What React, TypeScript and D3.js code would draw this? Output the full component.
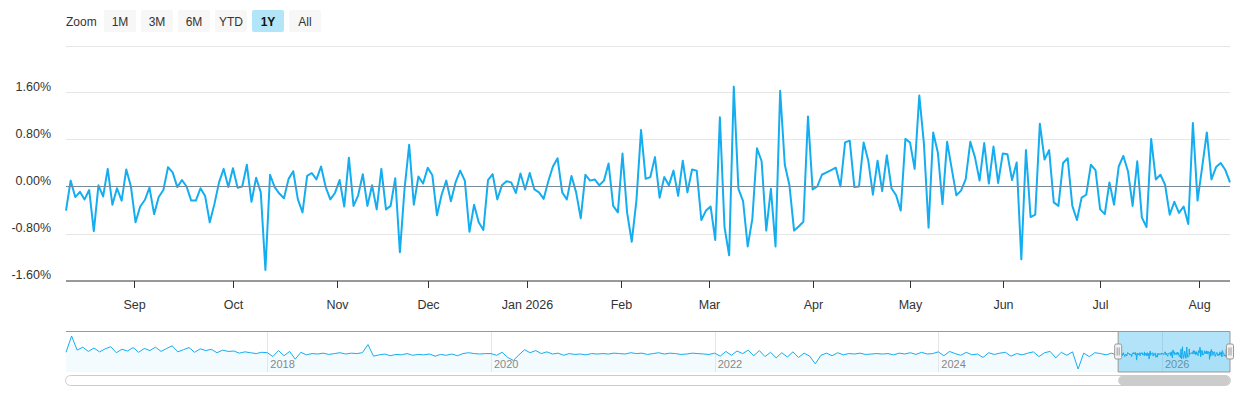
import React from 'react';
import * as d3 from 'd3';

// Daily change (%), trading days only, one list per calendar month
const aug2025 = [-0.41, 0.10, -0.18, -0.09, -0.22, -0.06, -0.76, 0.02, -0.17, 0.30, -0.31, -0.03, -0.24, 0.29, 0.00];
const sep2025 = [-0.61, -0.34, -0.23, -0.02, -0.47, -0.18, -0.06, 0.33, 0.24, -0.01, 0.11, 0.00, -0.24, -0.24, -0.03, -0.16, -0.61, -0.30, 0.07, 0.30, -0.01];
const oct2025 = [0.31, -0.02, 0.00, 0.37, -0.26, 0.15, -0.10, -1.42, 0.20, -0.01, -0.12, -0.20, 0.13, 0.26, -0.22, -0.44, 0.18, 0.23, 0.12, 0.34, -0.01, -0.22, -0.11];
const nov2025 = [0.11, -0.34, 0.49, -0.33, -0.15, 0.21, -0.33, 0.02, -0.39, 0.30, -0.39, -0.33, 0.14, -1.12, -0.04, 0.71, -0.31, 0.17, 0.05];
const dec2025 = [0.32, 0.19, -0.49, -0.14, 0.10, -0.25, 0.07, 0.27, 0.10, -0.77, -0.31, -0.61, -0.74, 0.11, 0.21, -0.22, 0.02, 0.09, 0.07, -0.11, 0.22, -0.05];
const jan2026 = [0.23, -0.05, -0.10, -0.21, 0.09, 0.34, 0.48, -0.10, -0.22, 0.18, -0.10, -0.54, 0.20, 0.10, 0.12, 0.02, 0.10, 0.39, -0.33, -0.44];
const feb2026 = [0.56, -0.45, -0.94, -0.24, 0.96, 0.13, 0.16, 0.50, -0.19, 0.16, 0.02, 0.27, -0.16, 0.44, -0.10, 0.29, 0.27, -0.57, -0.41];
const mar2026 = [-0.34, -0.91, 1.18, -0.69, -1.17, 1.70, -0.04, -0.25, -1.02, -0.55, 0.65, 0.43, -0.75, -0.04, -1.02, 1.63, 0.37, 0.02, -0.75, -0.68, -0.60, 1.19];
const apr2026 = [-0.05, 0.00, 0.20, 0.24, 0.28, 0.32, 0.00, 0.75, 0.78, -0.01, 0.00, 0.75, 0.44, -0.14, 0.44, -0.08, 0.53, -0.03, -0.15, -0.41, 0.81];
const may2026 = [0.75, 0.30, 1.55, 0.73, -0.70, 0.92, 0.58, -0.30, 0.76, 0.30, -0.15, -0.07, 0.12, 0.76, 0.50, 0.10, 0.74, 0.05, 0.68, 0.06];
const jun2026 = [0.56, 0.55, 0.11, 0.41, -1.24, 0.62, -0.52, -0.48, 1.07, 0.46, 0.62, -0.27, -0.33, 0.40, 0.48, -0.33, -0.57, -0.19, -0.14, 0.37, 0.28];
const jul2026 = [-0.39, -0.47, 0.07, -0.31, 0.34, 0.52, 0.26, -0.33, 0.43, -0.53, -0.69, 0.81, 0.12, 0.20, 0.03, -0.48, -0.26, -0.45, -0.34, -0.64, 1.08, -0.24];
const aug2026 = [0.33, 0.92, 0.12, 0.33, 0.40, 0.28, 0.07];

// market closures inside the 1Y window
const holidays = ['2025-09-01', '2025-11-27', '2025-12-25', '2026-01-01', '2026-01-19', '2026-02-16', '2026-04-03', '2026-05-25', '2026-06-19', '2026-07-03'];

const nav2016 = [0.4, 4.2, 0.9, 1.6, 0.6, 1.4, 0.5, 1.2, 1.7, 0.3, 1.1, 0.7, 1.5, 0.4, 1.3, 0.8];
const nav2017 = [1.6, 0.6, 1.3, 1.9, 0.5, 1.0, 1.5, 0.4, 1.2, 0.8, 1.1, 0.3, 0.9, 0.6, 0.7, 0.2, 0.5, 0.3, 0.1, 0.4];
const nav2018 = [0.3, -0.6, 0.8, -0.4, 0.6, -1.2, 0.4, -0.2, 0.1, 0.0, 0.2, -0.1, 0.1, 0.3, 0.0, 0.2, 0.1, 0.3, 2.2, -0.5];
const nav2019 = [-0.2, 0.0, -0.4, -0.1, -0.2, 0.1, -0.3, -0.1, -0.2, 0.0, -0.5, -0.1, -0.3, 0.0, -0.4, 0.1, 0.3, 0.1, 0.0, 0.1];
const nav2020 = [0.1, -0.3, 0.4, -0.8, -1.5, -0.2, 1.0, 0.3, 0.8, 0.1, 0.5, 0.0, 0.2, -0.3, 0.1, -0.1, 0.0, -0.2, 0.1, 0.0];
const nav2021 = [0.1, 0.0, 0.2, 0.1, 0.0, 0.3, 0.1, 0.2, -0.1, 0.1, 0.3, 0.0, 0.2, 0.1, -0.1, 0.0, 0.2, 0.1, 0.0, -0.1];
const nav2022 = [0.2, -0.5, 0.6, -0.3, 0.7, 0.1, 0.9, -0.4, 0.8, -0.6, 0.4, -0.9, 0.3, -0.7, 0.5, -0.8, 0.2, -0.5, -2.3, -0.3];
const nav2023 = [0.2, -0.4, 0.3, -0.2, 0.1, 0.0, 0.2, -0.1, 0.0, 0.1, 0.0, 0.1, -0.2, 0.2, 0.0, 0.3, -0.1, 0.4, 0.0, 0.1];
const nav2024 = [0.5, -0.4, 0.6, 0.1, -0.3, 0.4, -0.2, 0.0, -0.8, 0.3, -0.1, 0.2, 0.4, -0.5, 0.1, -0.2, 0.2, 0.5, -0.6, 0.3];
const nav2025 = [0.6, -0.9, 0.4, -0.3, 0.5, -3.5, 0.2, -0.6, 0.3, 0.1, -0.2, 0.2];

const tickLabels = ['Sep', 'Oct', 'Nov', 'Dec', 'Jan 2026', 'Feb', 'Mar', 'Apr', 'May', 'Jun', 'Jul', 'Aug'];
const yTicks = [-1.6, -0.8, 0, 0.8, 1.6, 2.4];
const zoomButtons = ['1M', '3M', '6M', 'YTD', '1Y', 'All'];
const selectedButton = '1Y';
const navYears = [2018, 2020, 2022, 2024, 2026];

const FONT = '"Liberation Sans", Arial, Helvetica, sans-serif';
const BLUE = '#14aef0';

export default function App() {
    const values = [...aug2025, ...sep2025, ...oct2025, ...nov2025, ...dec2025, ...jan2026,
        ...feb2026, ...mar2026, ...apr2026, ...may2026, ...jun2026, ...jul2026, ...aug2026];

    // trading calendar -> ordinal x axis (like Highcharts stock)
    const fmt = d3.timeFormat('%Y-%m-%d');
    const closed = new Set(holidays);
    const days = d3.timeDay.range(new Date(2025, 7, 11), new Date(2026, 7, 12))
        .filter(d => d.getDay() !== 0 && d.getDay() !== 6 && !closed.has(fmt(d)));

    const left = 66, right = 1230;
    const x = d3.scaleLinear().domain([0, values.length - 1]).range([left, right]);
    const y = d3.scaleLinear().domain([-1.6, 2.4]).range([280.5, 45.5]);

    const line = d3.line<number>().x((_, i) => x(i)).y(d => y(d));

    // month start -> fractional position between the surrounding trading days
    const ordinal = (m: Date) => {
        const next = days.findIndex(d => +d >= +m);
        if (next <= 0 || +days[next] === +m) return Math.max(next, 0);
        const prev = next - 1;
        return prev + (+m - +days[prev]) / (+days[next] - +days[prev]);
    };
    const monthStarts = d3.timeMonth.range(new Date(2025, 8, 1), new Date(2026, 8, 1));

    // navigator
    const history = [...nav2016, ...nav2017, ...nav2018, ...nav2019, ...nav2020,
        ...nav2021, ...nav2022, ...nav2023, ...nav2024, ...nav2025];
    const yearFrac = (d: Date) => d.getFullYear() + d3.timeDay.count(d3.timeYear(d), d) / 365;
    const navStart = 2016.2, histEnd = 2025.55;
    const navPts: [number, number][] = [
        ...history.map((v, k) => [navStart + k * (histEnd - navStart) / (history.length - 1), v] as [number, number]),
        ...values.map((v, i) => [yearFrac(days[i]), v] as [number, number]),
    ];
    const navTop = 331.5, navBottom = 372;
    const nx = d3.scaleLinear().domain([navStart, yearFrac(days[days.length - 1])]).range([left, right]);
    const ny = d3.scaleLinear().domain(d3.extent(navPts, p => p[1]) as [number, number]).range([369, 336]);
    const navLine = d3.line<[number, number]>().x(p => nx(p[0])).y(p => ny(p[1]));
    const navArea = d3.area<[number, number]>().x(p => nx(p[0])).y0(navBottom).y1(p => ny(p[1]));
    const selL = nx(yearFrac(days[0]));
    const selR = nx(yearFrac(days[days.length - 1]));

    const handle = (hx: number) => (
        <g key={hx}>
            <rect x={hx - 3.5} y={344} width={7} height={15} rx={1.5} fill="#f2f2f2" stroke="#999" />
            <line x1={hx - 1} x2={hx - 1} y1={347.5} y2={355.5} stroke="#999" />
            <line x1={hx + 1} x2={hx + 1} y1={347.5} y2={355.5} stroke="#999" />
        </g>
    );

    return (
        <svg width={1240} height={400} style={{ position: 'absolute', left: 0, top: 0, fontFamily: FONT }}>
            <rect width={1240} height={400} fill="#fff" />

            {/* range selector */}
            <text x={66} y={26} fontSize={12} fill="#333">Zoom</text>
            {zoomButtons.map((b, i) => {
                const sel = b === selectedButton;
                return (
                    <g key={b} transform={`translate(${104 + i * 37},10)`}>
                        <rect width={32} height={22} rx={2} fill={sel ? '#b3e5f8' : '#f7f7f7'} />
                        <text x={16} y={16} textAnchor="middle" fontSize={12} fontWeight={sel ? 'bold' : 'normal'} fill={sel ? '#111' : '#333'}>{b}</text>
                    </g>
                );
            })}

            {/* grid */}
            {yTicks.filter(t => t > -1.6 && t !== 0).map(t => (
                <line key={t} x1={left} x2={right} y1={Math.round(y(t)) + 0.5} y2={Math.round(y(t)) + 0.5} stroke="#e6e6e6" />
            ))}
            {yTicks.filter(t => t < 2.4).map(t => (
                <text key={t} x={51} y={y(t) - 2} textAnchor="end" fontSize={12.5} fill="#333">{t.toFixed(2)}%</text>
            ))}

            {/* series */}
            <path d={line(values) || ''} fill="none" stroke={BLUE} strokeWidth={2} strokeLinejoin="round" />
            <line x1={left} x2={right} y1={Math.round(y(0)) + 0.5} y2={Math.round(y(0)) + 0.5} stroke="#768a9c" />

            {/* x axis */}
            <line x1={left} x2={right} y1={281} y2={281} stroke="#333" />
            {monthStarts.map((m, i) => {
                const tx = Math.round(x(ordinal(m))) + 0.5;
                return (
                    <g key={i}>
                        <line x1={tx} x2={tx} y1={281} y2={288} stroke="#333" />
                        <text x={tx} y={309} textAnchor="middle" fontSize={12.5} fill="#333">{tickLabels[i]}</text>
                    </g>
                );
            })}

            {/* navigator */}
            <path d={navArea(navPts) || ''} fill={BLUE} fillOpacity={0.05} />
            {navYears.map(yr => (
                <g key={yr}>
                    <line x1={Math.round(nx(yr)) + 0.5} x2={Math.round(nx(yr)) + 0.5} y1={navTop} y2={navBottom} stroke="#e6e6e6" />
                    <text x={nx(yr) + 3} y={368} fontSize={11} fill="#888">{yr}</text>
                </g>
            ))}
            <path d={navLine(navPts) || ''} fill="none" stroke={BLUE} strokeWidth={1} />
            <rect x={selL} y={navTop} width={selR - selL} height={navBottom - navTop} fill="rgb(20,170,235)" fillOpacity={0.33} />
            <path d={`M${left},${navTop}H${right}M${selL},${navTop}V${navBottom}H${selR}V${navTop}`} fill="none" stroke="#999" />
            {[selL, selR].map(handle)}

            {/* scrollbar */}
            <rect x={left - 0.5} y={375.5} width={right - left + 1} height={10} rx={5} fill="#fff" stroke="#ccc" />
            <rect x={selL} y={375.5} width={selR - selL} height={10} rx={5} fill="#ccc" />
        </svg>
    );
}
